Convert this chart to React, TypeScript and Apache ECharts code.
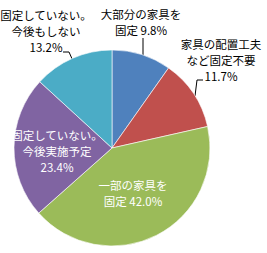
import React, { useEffect, useRef } from "react";
import * as echarts from "echarts";

const names = [
  "大部分の家具を\n固定",
  "家具の配置工夫\nなど固定不要",
  "一部の家具を\n固定",
  "固定していない。\n今後実施予定",
  "固定していない。\n今後もしない",
];
const values = [9.8, 11.7, 42.0, 23.4, 13.2];
const separators = [" ", "\n", " ", "\n", "\n"];
const colors = ["#4F81BD", "#C0504D", "#9BBB59", "#8064A2", "#4BACC6"];
const insideLabel = [false, false, true, true, false];

// label layout (px)
const labelPos: [number, number][] = [
  [141, 22],
  [221, 60],
  [133, 193],
  [57, 151],
  [46, 31],
];
const leaderLines: ([number, number][] | null)[] = [
  [[143, 56], [143, 47], [143, 38]],
  [[195, 96], [197, 80], [203, 80]],
  null,
  null,
  [[73, 61], [69, 52], [63, 52]],
];

export default function App() {
  const ref = useRef<HTMLDivElement>(null);
  useEffect(() => {
    document.body.style.margin = "0";
    const chart = echarts.init(ref.current!, null, { renderer: "svg" });
    chart.setOption({
      animation: false,
      backgroundColor: "#ffffff",
      series: [
        {
          type: "pie",
          center: [112, 148],
          radius: 98,
          startAngle: 90,
          clockwise: true,
          avoidLabelOverlap: false,
          itemStyle: { borderColor: "#ffffff", borderWidth: 0.6 },
          data: values.map((v, i) => ({
            name: names[i],
            value: v,
            itemStyle: { color: colors[i] },
            label: {
              position: insideLabel[i] ? "inside" : "outside",
              color: insideLabel[i] ? "#ffffff" : "#000000",
            },
            labelLine: { show: !insideLabel[i] },
          })),
          label: {
            show: true,
            fontFamily: "Noto Sans CJK JP",
            fontSize: 11.5,
            lineHeight: 16,
            align: "center",
            formatter: (p: any) =>
              `${names[p.dataIndex]}${separators[p.dataIndex]}${values[p.dataIndex].toFixed(1)}%`,
          },
          labelLine: {
            show: true,
            lineStyle: { color: "#000000", width: 1 },
          },
          labelLayout: (params: any) => {
            const i = params.dataIndex;
            const out: any = {
              x: labelPos[i][0],
              y: labelPos[i][1],
              align: "center",
              verticalAlign: "middle",
            };
            if (leaderLines[i]) out.labelLinePoints = leaderLines[i];
            return out;
          },
        },
      ],
    });
    return () => chart.dispose();
  }, []);
  return <div ref={ref} style={{ width: 267, height: 253 }} />;
}
